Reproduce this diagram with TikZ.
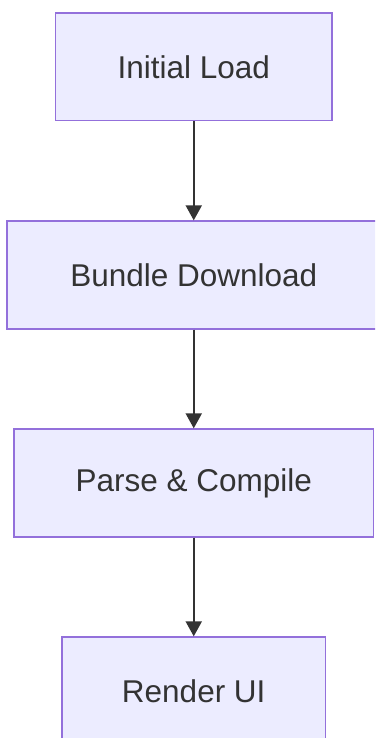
\documentclass[tikz,border=0pt]{standalone}
\usepackage{fontspec}
\setmainfont{Liberation Sans}
\usetikzlibrary{arrows.meta}
\definecolor{boxfill}{HTML}{ECECFF}
\definecolor{boxline}{HTML}{9370DB}
\definecolor{ink}{HTML}{333333}
\begin{document}
\begin{tikzpicture}[x=1pt,y=-1pt,
  stage/.style={draw=boxline, fill=boxfill, line width=1.8pt,
    minimum height=107.5pt, inner sep=0pt, text=ink,
    font=\fontsize{31.5}{36}\selectfont},
  flow/.style={draw=ink, line width=2pt,
    -{Triangle[width=16pt,length=15pt]}}]
  \useasboundingbox (0,0) rectangle (375,738);
  \clip (0,0) rectangle (375,738);
  \node[stage, minimum width=276.5pt] (load)    at (193.75,66.75) {Initial Load};
  \node[stage, minimum width=373.5pt] (bundle)  at (193.75,275)   {Bundle Download};
  \node[stage, minimum width=359.5pt] (parse)   at (193.75,483)   {Parse \& Compile};
  \node[stage, minimum width=263.5pt] (render)  at (193.75,691)   {Render UI};
  \draw[flow] (load) -- (bundle);
  \draw[flow] (bundle) -- (parse);
  \draw[flow] (parse) -- (render);
\end{tikzpicture}
\end{document}
